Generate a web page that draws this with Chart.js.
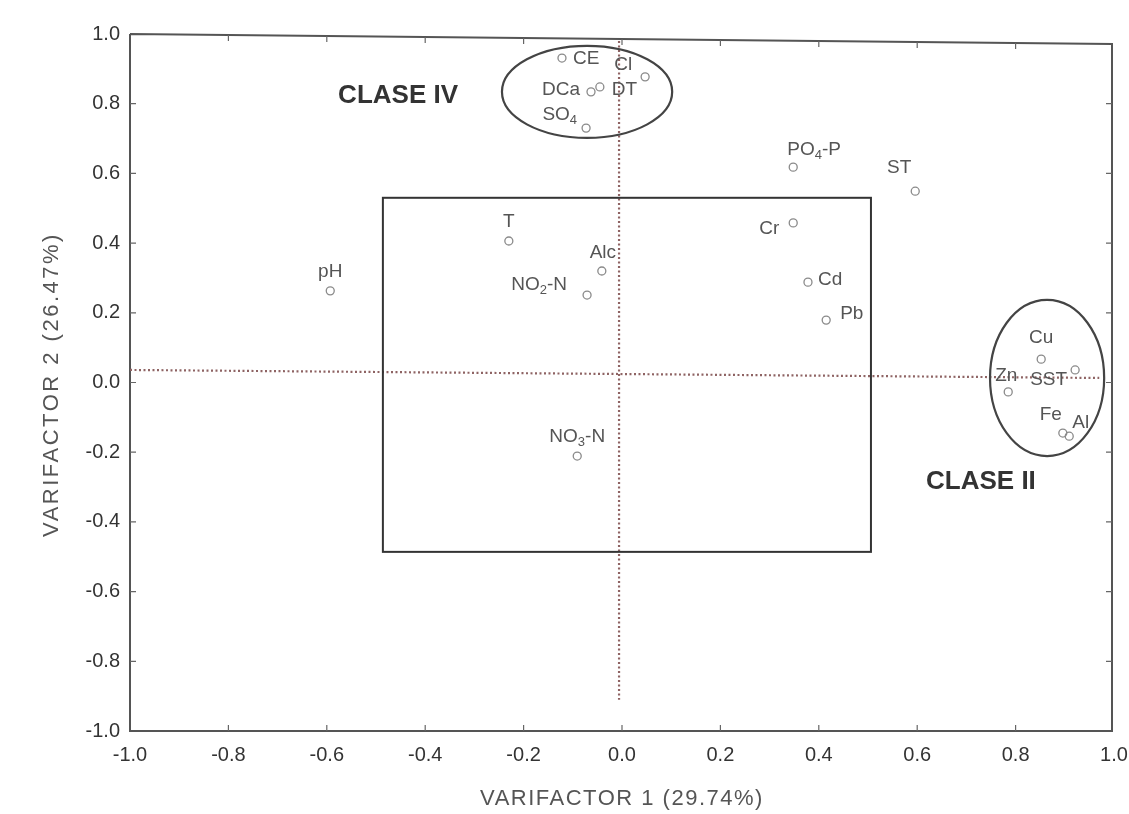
<!DOCTYPE html>
<html><head><meta charset="utf-8">
<script src="https://cdn.jsdelivr.net/npm/chart.js@4.4.1/dist/chart.umd.min.js"></script>
<style>html,body{margin:0;padding:0;background:#fff}canvas{display:block}</style>
</head><body>
<canvas id="c" width="1129" height="814"></canvas>
<script>
// ---- data ----
const variables = ["CE","Cl","DCa","DT","SO{4}","PO{4}-P","ST","Cr","Cd","Pb","T","Alc","NO{2}-N","pH","NO{3}-N","Cu","SST","Zn","Fe","Al"];
const factor1 = [-0.122,0.047,-0.063,-0.045,-0.073,0.348,0.596,0.348,0.378,0.415,-0.230,-0.041,-0.071,-0.593,-0.091,0.852,0.921,0.785,0.896,0.909];
const factor2 = [0.931,0.877,0.834,0.848,0.730,0.618,0.549,0.458,0.288,0.179,0.406,0.320,0.251,0.263,-0.211,0.067,0.036,-0.027,-0.145,-0.154];
const tickValues = [-1.0,-0.8,-0.6,-0.4,-0.2,0.0,0.2,0.4,0.6,0.8,1.0];
const xTitle = "VARIFACTOR 1 (29.74%)";
const yTitle = "VARIFACTOR 2 (26.47%)";
const classNames = ["CLASE IV","CLASE II"];

// ---- annotation geometry (data units) ----
const classPos = [{x:-0.577,y:0.822},{x:0.618,y:-0.286}];
const ellipses = [{cx:-0.071,cy:0.834,rx:0.173,ry:0.132},{cx:0.864,cy:0.013,rx:0.116,ry:0.224}];
const rectBox = {x0:-0.486,x1:0.506,y0:-0.486,y1:0.530};
const hLine = {x0:-1.0,y0:0.036,x1:0.97,y1:0.013};
const vLine = {x:-0.006,y0:0.98,y1:-0.91};
// label placement (pixel offsets from the point)
const labelStyle = [
 ['left',11,1],['right',-13,-12],['right',-11,-2],['left',12,3],['right',-9,-13],
 ['left',-6,-17],['right',-4,-23],['right',-14,6],['left',10,-2],['left',14,-6],
 ['center',0,-19],['center',1,-18],['right',-20,-10],['center',0,-19],['center',0,-19],
 ['center',0,-21],['right',-8,10],['center',-2,-16],['right',-1,-18],['left',3,-13]
];

const FONT = "'Liberation Sans', Arial, Helvetica, sans-serif";

function parseLabel(s){
  const parts=[]; const re=/([^{]+)|\{([^}]*)\}/g; let m;
  while((m=re.exec(s))){ if(m[1]) parts.push({t:m[1],sub:false}); else parts.push({t:m[2],sub:true}); }
  return parts;
}
function drawRich(ctx, s, x, y, align){
  const parts=parseLabel(s);
  const main='19px '+FONT, sub='13px '+FONT;
  let w=0;
  parts.forEach(p=>{ctx.font=p.sub?sub:main; p.w=ctx.measureText(p.t).width; w+=p.w;});
  let sx = align==='left'?x:(align==='right'?x-w:x-w/2);
  ctx.textAlign='left'; ctx.textBaseline='middle';
  parts.forEach(p=>{ctx.font=p.sub?sub:main; ctx.fillText(p.t,sx,p.sub?y+5:y); sx+=p.w;});
}

const decor = {
  id:'decor',
  beforeDatasetsDraw(chart){
    const {ctx} = chart; const xs=chart.scales.x, ys=chart.scales.y;
    const X=v=>xs.getPixelForValue(v), Y=v=>ys.getPixelForValue(v);
    ctx.save();
    // frame
    ctx.strokeStyle='#555'; ctx.lineWidth=2;
    ctx.beginPath();
    ctx.moveTo(X(-1),Y(1)); ctx.lineTo(X(-1),Y(-1)); ctx.lineTo(X(1)-2,Y(-1)); ctx.lineTo(X(1)-2,Y(0.971)); ctx.lineTo(X(-1),Y(1));
    ctx.stroke();
    // inner ticks
    ctx.lineWidth=1.2; ctx.strokeStyle='#666';
    tickValues.forEach(v=>{
      if(Math.abs(v)===1) return;
      ctx.beginPath();
      ctx.moveTo(X(-1),Y(v)); ctx.lineTo(X(-1)+6,Y(v));
      ctx.moveTo(X(1)-2,Y(v)); ctx.lineTo(X(1)-8,Y(v));
      ctx.moveTo(X(v),Y(-1)); ctx.lineTo(X(v),Y(-1)-6);
      const ty = Y(1) + (Y(0.971)-Y(1))*(v+1)/2;
      ctx.moveTo(X(v),ty); ctx.lineTo(X(v),ty+6);
      ctx.stroke();
    });
    // dotted reference lines
    ctx.strokeStyle='#8e6363'; ctx.lineWidth=2.2; ctx.setLineDash([2,2.5]);
    ctx.beginPath(); ctx.moveTo(X(hLine.x0),Y(hLine.y0)); ctx.lineTo(X(hLine.x1),Y(hLine.y1)); ctx.stroke();
    ctx.beginPath(); ctx.moveTo(X(vLine.x),Y(vLine.y0)); ctx.lineTo(X(vLine.x),Y(vLine.y1)); ctx.stroke();
    ctx.setLineDash([]);
    // rectangle
    ctx.strokeStyle='#333'; ctx.lineWidth=2;
    ctx.strokeRect(X(rectBox.x0),Y(rectBox.y1),X(rectBox.x1)-X(rectBox.x0),Y(rectBox.y0)-Y(rectBox.y1));
    // ellipses
    ctx.strokeStyle='#444'; ctx.lineWidth=2.2;
    ellipses.forEach(e=>{
      ctx.beginPath();
      ctx.ellipse(X(e.cx),Y(e.cy),Math.abs(X(e.cx+e.rx)-X(e.cx)),Math.abs(Y(e.cy+e.ry)-Y(e.cy)),0,0,Math.PI*2);
      ctx.stroke();
    });
    ctx.restore();
  },
  afterDatasetsDraw(chart){
    const {ctx} = chart; const xs=chart.scales.x, ys=chart.scales.y;
    const X=v=>xs.getPixelForValue(v), Y=v=>ys.getPixelForValue(v);
    ctx.save();
    ctx.fillStyle='#555';
    variables.forEach((s,i)=>{
      const st=labelStyle[i];
      drawRich(ctx,s,X(factor1[i])+st[1],Y(factor2[i])+st[2],st[0]);
    });
    // class labels
    ctx.fillStyle='#333'; ctx.font='bold 26px '+FONT; ctx.textAlign='left'; ctx.textBaseline='middle';
    classNames.forEach((n,i)=>ctx.fillText(n,X(classPos[i].x),Y(classPos[i].y)));
    // axis titles
    ctx.fillStyle='#555'; ctx.font='22px '+FONT; ctx.textAlign='center';
    if('letterSpacing' in ctx) ctx.letterSpacing='1.5px';
    ctx.fillText(xTitle,(chart.chartArea.left+chart.chartArea.right)/2,799);
    ctx.translate(52,(chart.chartArea.top+chart.chartArea.bottom)/2+2);
    ctx.rotate(-Math.PI/2);
    if('letterSpacing' in ctx) ctx.letterSpacing='2.5px';
    ctx.fillText(yTitle,0,0);
    ctx.restore();
  }
};

const fmt = v => Math.abs(v)<1e-9 ? '0.0' : Number(v).toFixed(1);

new Chart(document.getElementById('c'),{
  type:'scatter',
  data:{datasets:[{
    label:'Variables',
    data: variables.map((n,i)=>({x:factor1[i],y:factor2[i]})),
    pointRadius:4, pointHoverRadius:4, pointBorderWidth:1.3,
    pointBorderColor:'#8a8a8a', pointBackgroundColor:'rgba(255,255,255,0)'
  }]},
  options:{
    responsive:false, animation:false,
    layout:{padding:{left:39,right:15,top:34,bottom:2}},
    plugins:{legend:{display:false},tooltip:{enabled:false}},
    scales:{
      x:{type:'linear',min:-1,max:1,
        afterBuildTicks:s=>{s.ticks=tickValues.map(v=>({value:v}));},
        afterFit:s=>{s.height=81; s.paddingLeft=0; s.paddingRight=0;},
        grid:{display:false,drawTicks:false}, border:{display:false},
        ticks:{padding:12,color:'#333',font:{family:FONT,size:20},callback:fmt,maxRotation:0,autoSkip:false}},
      y:{type:'linear',min:-1,max:1,
        afterBuildTicks:s=>{s.ticks=tickValues.map(v=>({value:v}));},
        afterFit:s=>{s.width=91; s.paddingTop=0; s.paddingBottom=0;},
        grid:{display:false,drawTicks:false}, border:{display:false},
        ticks:{padding:10,color:'#333',font:{family:FONT,size:20},callback:fmt,autoSkip:false}}
    }
  },
  plugins:[decor]
});
</script>
</body></html>
